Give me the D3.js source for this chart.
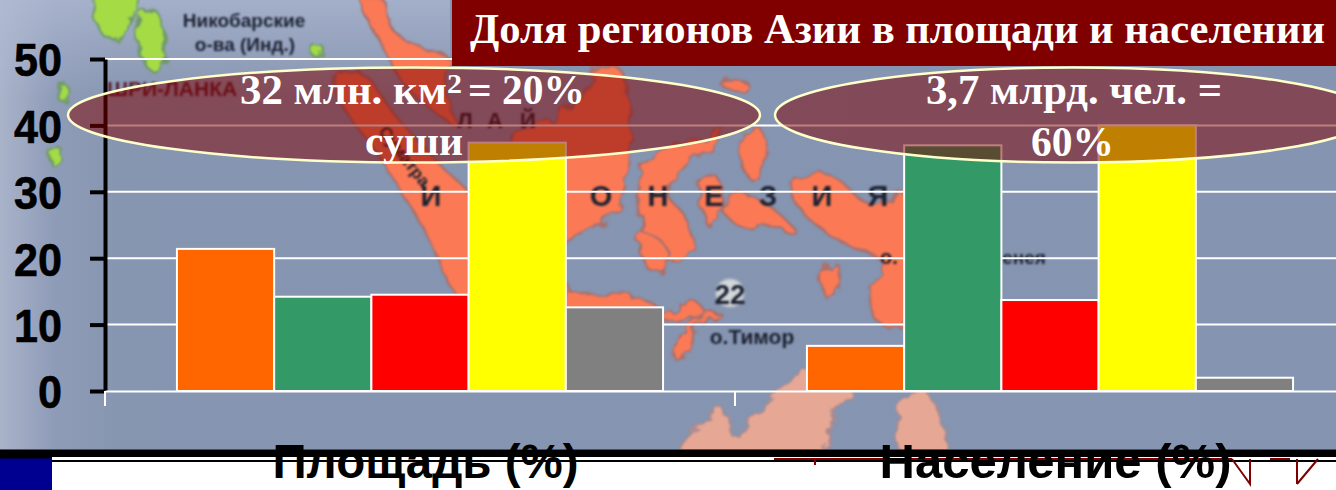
<!DOCTYPE html>
<html>
<head>
<meta charset="utf-8">
<script src="https://cdn.jsdelivr.net/npm/d3@7"></script>
<style>
  html, body { margin: 0; padding: 0; background: #fff; overflow: hidden; }
  svg { display: block; }
</style>
</head>
<body>
<div id="main"></div>
<script>
const categories = ["Площадь (%)", "Население (%)"];
const orangeValues = [21.4, 6.8];
const greenValues = [14.2, 37];
const redValues = [14.5, 13.7];
const yellowValues = [37.4, 40];
const grayValues = [12.6, 2];
const seriesValues = [orangeValues, greenValues, redValues, yellowValues, grayValues];
const seriesColors = ["#ff6600", "#339966", "#ff0000", "#ffff00", "#808080"];
const yTicks = [0, 10, 20, 30, 40, 50];

const width = 1336;
const height = 490;

// background map, only a rough trace of the photo behind the chart
const landShapes = [
    [[363,0],[383,0],[393,30],[425,50],[452,60],[445,90],[456,125],[435,112],[405,85],[385,50],[370,25]],
    [[333,78],[360,72],[395,115],[440,165],[472,200],[472,305],[452,290],[430,240],[400,190],[375,150],[345,110]],
    [[513,140],[560,115],[590,85],[600,65],[622,72],[630,110],[628,170],[610,215],[585,232],[560,240],[520,200]],
    [[640,175],[660,150],[700,140],[722,128],[716,147],[682,165],[668,195],[684,215],[692,250],[670,262],[650,250],[640,210]],
    [[745,130],[760,128],[766,165],[756,182],[741,165]],
    [[722,207],[745,195],[772,208],[797,234],[770,226],[740,226]],
    [[700,180],[715,175],[720,215],[708,225]],
    [[790,186],[830,175],[870,205],[905,195],[905,325],[878,322],[870,290],[882,262],[860,250],[835,238],[805,215]],
    [[821,282],[835,262],[838,290],[828,298]],
    [[673,357],[690,325],[706,312],[725,318],[700,322],[685,355]],
    [[660,318],[695,303],[705,312],[672,322]],
    [[565,282],[578,300],[600,305],[565,310]],
    [[720,82],[735,80],[750,86],[735,92]],
    [[620,30],[640,22],[650,50],[630,56]],
    [[640,235],[660,240],[668,262],[650,270]],
    [[560,300],[640,298],[660,312],[565,318]]
];
const paleShapes = [
    [[680,452],[700,425],[722,408],[735,438],[750,420],[775,395],[805,370],[850,390],[830,420],[825,452]],
    [[905,395],[925,391],[945,452],[900,452]]
];
const greenShapes = [
    [[92,-5],[135,-5],[130,25],[110,40],[100,30]],
    [[140,12],[155,10],[167,50],[160,72],[145,65],[138,30]],
    [[310,50],[320,45],[325,52],[316,57]],
    [[56,88],[66,85],[68,95],[60,100]],
    [[50,150],[60,148],[62,160],[52,165]]
];
const mapLabels = [
    {text: "Никобарские", x: 244, y: 27, size: 19},
    {text: "о-ва (Инд.)", x: 245, y: 51, size: 19},
    {text: "ШРИ-ЛАНКА", x: 172, y: 96, size: 21, fill: "#5a1f2c"},
    {text: "И", x: 431, y: 206, size: 29},
    {text: "О", x: 601, y: 206, size: 29},
    {text: "Н", x: 658, y: 206, size: 29},
    {text: "Е", x: 714, y: 206, size: 29},
    {text: "З", x: 768, y: 206, size: 29},
    {text: "И", x: 822, y: 206, size: 29},
    {text: "Я", x: 878, y: 206, size: 29},
    {text: "Л", x: 465, y: 128, size: 22},
    {text: "А", x: 495, y: 128, size: 22},
    {text: "Й", x: 528, y: 128, size: 22},
    {text: "о.", x: 889, y: 264, size: 20},
    {text: "енея", x: 1024, y: 264, size: 19},
    {text: "о.Тимор", x: 752, y: 344, size: 21},
    {text: "Суматра", x: 400, y: 160, size: 17, rotate: 52}
];

const svg = d3
    .select("#main")
    .append("svg")
    .attr("width", width)
    .attr("height", height)
    .attr("viewBox", [0, 0, width, height]);

const defs = svg.append("defs");

const leftFade = defs.append("linearGradient").attr("id", "leftFade");
leftFade.append("stop").attr("offset", 0).attr("stop-color", "#a9b3ca");
leftFade.append("stop").attr("offset", 0.04).attr("stop-color", "#8f9cb8");
leftFade.append("stop").attr("offset", 0.09).attr("stop-color", "#8695b0");
leftFade.append("stop").attr("offset", 1).attr("stop-color", "#8594b0");

const topFade = defs.append("linearGradient")
    .attr("id", "topFade")
    .attr("x1", 0).attr("x2", 0).attr("y1", 0).attr("y2", 1);
topFade.append("stop").attr("offset", 0).attr("stop-color", "#b4bdd6").attr("stop-opacity", 0.65);
topFade.append("stop").attr("offset", 0.22).attr("stop-color", "#b4bdd6").attr("stop-opacity", 0);

// rough coast: displace the smooth shapes a little, then blur like the scan
const coast = defs.append("filter").attr("id", "coast")
    .attr("x", "-5%").attr("y", "-5%").attr("width", "110%").attr("height", "110%");
coast.append("feTurbulence")
    .attr("type", "fractalNoise")
    .attr("baseFrequency", 0.07)
    .attr("numOctaves", 2)
    .attr("seed", 4)
    .attr("result", "noise");
coast.append("feDisplacementMap")
    .attr("in", "SourceGraphic")
    .attr("in2", "noise")
    .attr("scale", 14)
    .attr("result", "moved");
coast.append("feGaussianBlur").attr("in", "moved").attr("stdDeviation", 1);

defs.append("filter").attr("id", "soft")
    .append("feGaussianBlur").attr("stdDeviation", 1.6);
defs.append("filter").attr("id", "softer")
    .append("feGaussianBlur").attr("stdDeviation", 0.9);

// map layer
const map = svg.append("g").attr("id", "map");
map.append("rect").attr("width", width).attr("height", 452).attr("fill", "url(#leftFade)");
map.append("rect").attr("width", 450).attr("height", 452).attr("fill", "url(#topFade)");

const blob = d3.line().curve(d3.curveCatmullRomClosed.alpha(0.5));

const landGroup = map.append("g").attr("filter", "url(#coast)");
landGroup.selectAll(".pale")
    .data(paleShapes)
    .join("path")
    .attr("class", "pale")
    .attr("d", blob)
    .attr("fill", "#e6a894")
    .attr("stroke", "#a98a90")
    .attr("stroke-width", 2);
landGroup.selectAll(".land")
    .data(landShapes)
    .join("path")
    .attr("class", "land")
    .attr("d", blob)
    .attr("fill", "#fb7a55")
    .attr("stroke", "#a8706c")
    .attr("stroke-width", 2.5);
landGroup.selectAll(".greenland")
    .data(greenShapes)
    .join("path")
    .attr("class", "greenland")
    .attr("d", blob)
    .attr("fill", "#a5dc45")
    .attr("stroke", "#6f9a6a")
    .attr("stroke-width", 2.5);

map.append("g")
    .attr("filter", "url(#softer)")
    .attr("font-family", "'Liberation Sans', sans-serif")
    .attr("font-weight", "bold")
    .attr("text-anchor", "middle")
    .selectAll("text")
    .data(mapLabels)
    .join("text")
    .attr("x", d => d.x)
    .attr("y", d => d.y)
    .attr("transform", d => d.rotate ? `rotate(${d.rotate},${d.x},${d.y})` : null)
    .attr("font-size", d => d.size)
    .attr("fill", d => d.fill || "#1b2233")
    .text(d => d.text);

map.append("circle")
    .attr("cx", 730).attr("cy", 293).attr("r", 14)
    .attr("fill", "#e8e8e4")
    .attr("fill-opacity", 0.8)
    .attr("filter", "url(#soft)");
map.append("text")
    .attr("x", 730).attr("y", 304)
    .attr("filter", "url(#softer)")
    .attr("text-anchor", "middle")
    .attr("font-family", "'Liberation Sans', sans-serif")
    .attr("font-weight", "bold")
    .attr("font-size", 28)
    .attr("fill", "#1b2233")
    .text("22");

// chart
const x = d3.scaleBand()
    .domain(categories)
    .range([105, 1365]);

const y = d3.scaleLinear()
    .domain([0, 50])
    .range([391, 59]);

const inner = d3.scaleBand()
    .domain(d3.range(seriesValues.length))
    .range([0, x.bandwidth()])
    .paddingOuter(0.74)
    .paddingInner(0);

svg.append("g")
    .attr("id", "grid")
    .selectAll("line")
    .data(yTicks.filter(d => d > 0))
    .join("line")
    .attr("x1", 105)
    .attr("x2", width)
    .attr("y1", d => y(d))
    .attr("y2", d => y(d))
    .attr("stroke", "#fff")
    .attr("stroke-width", 2);

svg.append("g")
    .attr("id", "bars")
    .selectAll("g")
    .data(seriesValues)
    .join("g")
    .attr("fill", (d, i) => seriesColors[i])
    .selectAll("rect")
    .data((d, i) => d.map((v, c) => ({v, c, i})))
    .join("rect")
    .attr("x", d => x(categories[d.c]) + inner(d.i))
    .attr("y", d => y(d.v))
    .attr("width", inner.bandwidth())
    .attr("height", d => y(0) - y(d.v))
    .attr("stroke", "#fff")
    .attr("stroke-width", 2);

// bottom strip of the slide goes under the category labels
svg.append("rect").attr("x", 0).attr("y", 457).attr("width", width).attr("height", 33).attr("fill", "#fff");
svg.append("rect").attr("x", 0).attr("y", 449).attr("width", width).attr("height", 1.5).attr("fill", "#4a5060");
svg.append("rect").attr("x", 0).attr("y", 450).attr("width", width).attr("height", 7).attr("fill", "#000");
svg.append("rect").attr("x", 0).attr("y", 460).attr("width", width).attr("height", 2).attr("fill", "#000");
svg.append("rect").attr("x", 0).attr("y", 457).attr("width", 52).attr("height", 33).attr("fill", "#000090");
svg.append("rect").attr("x", 0).attr("y", 457).attr("width", 52).attr("height", 1.5).attr("fill", "#000");

const navMarks = svg.append("g")
    .attr("fill", "none")
    .attr("stroke", "#800000")
    .attr("stroke-width", 2);
navMarks.append("path").attr("d", "M774,459H1232M1270,459H1290");
navMarks.append("path").attr("d", "M1232,459L1250,484V459M1297,484L1318,459M1297,459V484");
navMarks.append("path").attr("d", "M815,459V465");

const yAxis = svg.append("g")
    .attr("transform", "translate(105,0)")
    .call(d3.axisLeft(y).tickValues(yTicks).tickSize(15).tickPadding(28).tickSizeOuter(0));
yAxis.select(".domain").attr("stroke", "#000").attr("stroke-width", 4);
yAxis.selectAll(".tick line").attr("stroke", "#000").attr("stroke-width", 4);
yAxis.selectAll(".tick text")
    .attr("fill", "#000")
    .attr("font-family", "'Liberation Sans', Arial, sans-serif")
    .attr("font-weight", "bold")
    .attr("font-size", 47)
    .attr("dy", "0.36em")
    .attr("textLength", d => String(d).length * 24)
    .attr("lengthAdjust", "spacingAndGlyphs")
    .attr("stroke", "#000")
    .attr("stroke-width", 0.6);

const xAxis = svg.append("g")
    .attr("transform", "translate(0,391)")
    .call(d3.axisBottom(x).tickSize(0).tickPadding(53));
xAxis.select(".domain").attr("stroke", "#fff").attr("stroke-width", 2);
xAxis.selectAll(".tick text")
    .attr("dx", 5.5)
    .attr("fill", "#000")
    .attr("font-family", "'Liberation Sans', Arial, sans-serif")
    .attr("font-weight", "bold")
    .attr("font-size", 48)
    .attr("textLength", d => d === categories[0] ? 306 : 352)
    .attr("lengthAdjust", "spacingAndGlyphs");

svg.append("g")
    .selectAll("line")
    .data(categories)
    .join("line")
    .attr("x1", d => x(d))
    .attr("x2", d => x(d))
    .attr("y1", 391)
    .attr("y2", 406)
    .attr("stroke", "#fff")
    .attr("stroke-width", 2);

// callouts
const callouts = [
    {cx: 414, rx: 346},
    {cx: 1073, rx: 298}
];
svg.append("g")
    .selectAll("ellipse")
    .data(callouts)
    .join("ellipse")
    .attr("cx", d => d.cx)
    .attr("cy", 115)
    .attr("rx", d => d.rx)
    .attr("ry", 47.5)
    .attr("fill", "#800000")
    .attr("fill-opacity", 0.5)
    .attr("stroke", "#ffffcc")
    .attr("stroke-width", 2.5);

// title
svg.append("rect")
    .attr("x", 452).attr("y", 0)
    .attr("width", width - 452).attr("height", 66)
    .attr("fill", "#800000");

const serif = "'Liberation Serif', 'Times New Roman', serif";
function whiteText(str, xPos, yPos, len, size) {
    return svg.append("text")
        .attr("x", xPos)
        .attr("y", yPos)
        .attr("font-family", serif)
        .attr("font-weight", "bold")
        .attr("font-size", size)
        .attr("fill", "#fff")
        .attr("textLength", len)
        .attr("lengthAdjust", "spacingAndGlyphs")
        .text(str);
}

whiteText("Доля регионов Азии в площади и населении", 470, 43, 855, 42);
whiteText("32 млн. км", 240, 104, 207, 43);
whiteText("2", 447, 93, 15, 27);
whiteText("= 20%", 468, 104, 117, 43);
whiteText("суши", 365, 155, 98, 43);
whiteText("3,7 млрд. чел. =", 926, 104, 296, 43);
whiteText("60%", 1031, 156, 83, 43);
</script>
</body>
</html>
